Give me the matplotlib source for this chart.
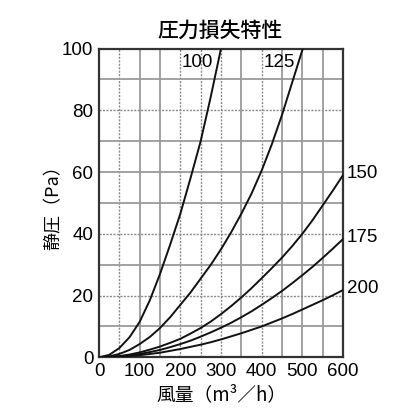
import matplotlib
matplotlib.use("Agg")
import matplotlib.pyplot as plt

plt.rcParams['font.family'] = ['Liberation Sans', 'Noto Sans CJK JP', 'DejaVu Sans']

# 読み取った値 (風量 m3/h -> 静圧 Pa)
q_100 = [0, 25, 50, 75, 100, 125, 150, 175, 200, 225, 250, 275, 300]
p_100 = [0, 0.8, 3, 6.5, 11.5, 18.5, 27, 36.5, 46.5, 58, 70, 84.5, 100]

q_125 = [0, 25, 50, 75, 100, 125, 150, 175, 200, 225, 250, 275, 300, 325, 350,
         375, 400, 425, 450, 475, 500, 502]
p_125 = [0, 0.3, 1.1, 2.4, 4.3, 6.6, 9.5, 13, 17, 21, 25.5, 30, 35, 40.5, 46.5,
         53, 60.5, 69, 78.5, 89, 99.5, 100]

q_big = [0, 25, 50, 75, 100, 125, 150, 175, 200, 225, 250, 275, 300, 325, 350,
         375, 400, 425, 450, 475, 500, 525, 550, 575, 600]
p_150 = [0, 0.1, 0.4, 0.9, 1.6, 2.5, 3.5, 4.7, 6, 7.7, 9.5, 11.6, 14, 16.6, 19.4,
         22.4, 25.6, 28.9, 32.3, 36, 40, 44.4, 49.2, 54, 59]
p_175 = [0, 0.1, 0.3, 0.6, 1.1, 1.7, 2.4, 3.3, 4.3, 5.4, 6.7, 8.1, 9.6, 11.2, 13,
         14.9, 17, 19.2, 21.5, 24, 26.6, 29.3, 32.2, 35.2, 38.3]
p_200 = [0, 0.05, 0.2, 0.4, 0.7, 1.1, 1.5, 2.1, 2.7, 3.4, 4.1, 4.9, 5.8, 6.8, 7.8,
         8.9, 10, 11.3, 12.6, 14, 15.5, 17, 18.5, 20.1, 21.8]

curve_names = ['100', '125', '150', '175', '200']

x_grid = [50, 100, 150, 200, 250, 300, 350, 400, 450, 500, 550]
x_grid_dotted = [50, 200, 250, 300, 400]
y_grid = [10, 20, 30, 40, 50, 60, 70, 80, 90]
y_grid_dotted = [20, 40, 80]

fig = plt.figure(figsize=(4.16, 4.16), dpi=100)
ax = fig.add_axes([0.238, 0.141, 0.5865, 0.7423])

for xg in x_grid:
    if xg in x_grid_dotted:
        ax.axvline(xg, color='#8a8a8a', lw=1.0, ls=(0, (1.5, 1)), zorder=1)
    else:
        ax.axvline(xg, color='#9a9a9a', lw=1.3, zorder=1)
for yg in y_grid:
    if yg in y_grid_dotted:
        ax.axhline(yg, color='#8a8a8a', lw=1.0, ls=(0, (1.5, 1)), zorder=1)
    else:
        ax.axhline(yg, color='#9a9a9a', lw=1.3, zorder=1)

series = [(q_100, p_100), (q_125, p_125), (q_big, p_150), (q_big, p_175), (q_big, p_200)]
for q, p in series:
    ax.plot(q, p, color='#111111', lw=1.4, zorder=3, solid_joinstyle='round')

ax.set_xlim(0, 600)
ax.set_ylim(0, 100)
ax.set_xticks(range(0, 601, 100))
ax.set_yticks(range(0, 101, 20))
ax.tick_params(length=0, labelsize=13.5, pad=4)
for s in ax.spines.values():
    s.set_linewidth(1.6)
    s.set_color('#333333')

# 曲線ラベル
ax.text(281, 95.5, curve_names[0], ha='right', va='center', fontsize=13.5)
ax.text(482, 95.5, curve_names[1], ha='right', va='center', fontsize=13.5)
for name, p in zip(curve_names[2:], [p_150, p_175, p_200]):
    ax.text(610, p[-1] + 0.6, name, ha='left', va='center', fontsize=13.5, clip_on=False)

fig.text(0.528, 0.927, '圧力損失特性', ha='center', va='center', fontsize=15,
         family=['Noto Sans CJK JP'], weight='medium')
ax.set_xlabel('風量（m³／h）', fontsize=13.5, family=['Noto Sans CJK JP', 'DejaVu Sans'], labelpad=3)
ax.set_ylabel('静圧（Pa）', fontsize=13, family=['Noto Sans CJK JP', 'DejaVu Sans'], labelpad=0)

fig.savefig('out.png', dpi=100, facecolor='white')
